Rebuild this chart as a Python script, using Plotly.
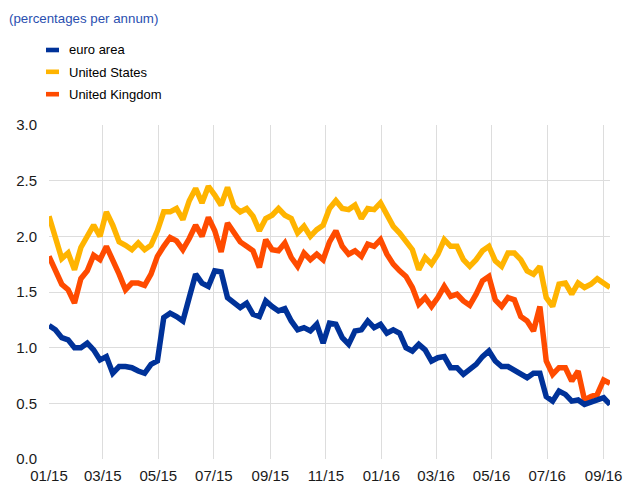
import pandas as pd
import plotly.graph_objects as go

# weekly observation dates
dates = pd.date_range(start="2015-01-01", periods=89, freq="7D")

euro_area = [1.20, 1.16, 1.09, 1.07, 1.00, 1.00, 1.04, 0.98, 0.89, 0.92, 0.77, 0.83, 0.83, 0.82, 0.79,
             0.77, 0.85, 0.88, 1.27, 1.31, 1.28, 1.24, 1.45,
             1.66, 1.58, 1.55, 1.69, 1.68, 1.45, 1.40, 1.36, 1.40, 1.30, 1.28, 1.42, 1.37, 1.33, 1.35,
             1.24, 1.16, 1.18, 1.15, 1.21, 1.04, 1.22,
             1.21, 1.09, 1.03, 1.15, 1.16, 1.24, 1.18, 1.21, 1.13, 1.16, 1.13, 1.00, 0.97, 1.03, 0.98,
             0.88, 0.91, 0.92, 0.82, 0.82, 0.76, 0.80,
             0.85, 0.92, 0.97, 0.88, 0.83, 0.83, 0.80, 0.76, 0.73, 0.77, 0.77, 0.56, 0.52, 0.61, 0.58,
             0.52, 0.53, 0.49, 0.51, 0.52, 0.55, 0.49]

united_states = [2.18, 2.00, 1.80, 1.85, 1.70, 1.90, 2.00, 2.10, 2.00, 2.22, 2.10, 1.95, 1.92, 1.88, 1.94,
                 1.88, 1.92, 2.05, 2.22, 2.22, 2.25, 2.15, 2.32,
                 2.43, 2.30, 2.45, 2.37, 2.28, 2.44, 2.27, 2.22, 2.25, 2.18, 2.05, 2.16, 2.19, 2.25, 2.19,
                 2.16, 2.03, 2.09, 2.00, 2.06, 2.10, 2.25,
                 2.32, 2.25, 2.24, 2.28, 2.16, 2.25, 2.24, 2.30, 2.19, 2.09, 2.03, 1.96, 1.88, 1.70, 1.81,
                 1.75, 1.84, 1.97, 1.91, 1.91, 1.79, 1.73,
                 1.79, 1.87, 1.91, 1.78, 1.73, 1.85, 1.85, 1.79, 1.69, 1.66, 1.73, 1.45, 1.37, 1.57, 1.58,
                 1.48, 1.58, 1.54, 1.57, 1.62, 1.58, 1.54]

united_kingdom = [1.82, 1.69, 1.57, 1.52, 1.40, 1.62, 1.69, 1.83, 1.79, 1.91, 1.79, 1.66, 1.52, 1.58, 1.58,
                  1.56, 1.66, 1.82, 1.91, 1.99, 1.96, 1.88, 1.98,
                  2.10, 2.00, 2.17, 2.05, 1.86, 2.12, 2.03, 1.95, 1.91, 1.87, 1.72, 1.97, 1.88, 1.87, 1.94,
                  1.81, 1.73, 1.85, 1.79, 1.84, 1.79, 1.95,
                  2.05, 1.91, 1.84, 1.87, 1.82, 1.93, 1.91, 1.97, 1.84, 1.75, 1.69, 1.64, 1.54, 1.39, 1.45,
                  1.37, 1.45, 1.55, 1.46, 1.48, 1.42, 1.38,
                  1.48, 1.60, 1.64, 1.43, 1.37, 1.45, 1.43, 1.28, 1.24, 1.15, 1.37, 0.88, 0.76, 0.82, 0.82,
                  0.70, 0.79, 0.53, 0.56, 0.58, 0.71, 0.68]

series_names = ["euro area", "United States", "United Kingdom"]
series_values = [euro_area, united_states, united_kingdom]
series_colors = ["#003299", "#FFB400", "#FF4B00"]

y_ticks = [0.0, 0.5, 1.0, 1.5, 2.0, 2.5, 3.0]
y_tick_labels = ["0.0", "0.5", "1.0", "1.5", "2.0", "2.5", "3.0"]

FONT = "Liberation Sans, Arial, sans-serif"
W, H = 627, 485
L, R, T, B = 49, 17, 125, 26
PW, PH = W - L - R, H - T - B


def px_x(px):
    return (px - L) / PW


def px_y(py):
    return (H - B - py) / PH


fig = go.Figure()
# draw UK, US first so euro area sits on top like the reference
for name, vals, col in zip(series_names[::-1], series_values[::-1], series_colors[::-1]):
    fig.add_trace(go.Scatter(x=dates, y=vals, mode="lines", name=name,
                             line=dict(color=col, width=5.5), showlegend=False))

shapes = []
annotations = []
legend_rows = [(47.7, 52.3, 50.0), (69.5, 74.1, 72.3), (91.9, 96.5, 94.5)]
for (y0, y1, yc), name, col in zip(legend_rows, series_names, series_colors):
    shapes.append(dict(type="rect", xref="paper", yref="paper",
                       x0=px_x(46), x1=px_x(59), y0=px_y(y1), y1=px_y(y0),
                       fillcolor=col, line=dict(width=0)))
    annotations.append(dict(text=name, xref="paper", yref="paper", x=px_x(67), y=px_y(yc),
                            xanchor="left", yanchor="middle", showarrow=False,
                            font=dict(family=FONT, size=13, color="#000000")))

annotations.append(dict(text="(percentages per annum)", xref="paper", yref="paper",
                        x=px_x(7), y=px_y(18.5), xanchor="left", yanchor="middle",
                        showarrow=False, font=dict(family=FONT, size=13.3, color="#2A4FB0")))

fig.update_layout(
    width=W, height=H,
    margin=dict(l=L, r=R, t=T, b=B, pad=0),
    paper_bgcolor="white", plot_bgcolor="white",
    font=dict(family=FONT, size=15, color="#1a1a1a"),
    shapes=shapes, annotations=annotations,
    xaxis=dict(type="date", range=["2015-01-01", "2016-09-08"],
               tick0="2015-01-01", dtick="M2", tickformat="%m/%y",
               showgrid=True, gridcolor="#DDDDDD", gridwidth=1,
               zeroline=False, showline=False, ticks="", automargin=False,
               ticklabelstandoff=6, tickfont=dict(size=15)),
    yaxis=dict(range=[0, 3], tickvals=y_ticks, ticktext=y_tick_labels,
               showgrid=True, gridcolor="#DDDDDD", gridwidth=1,
               zeroline=False, showline=False, ticks="", automargin=False,
               ticklabelstandoff=11, tickfont=dict(size=15)),
)

fig.write_html("out.html", config={"displayModeBar": False},
               post_script="document.body.style.margin='0px';document.body.style.overflow='hidden';")
